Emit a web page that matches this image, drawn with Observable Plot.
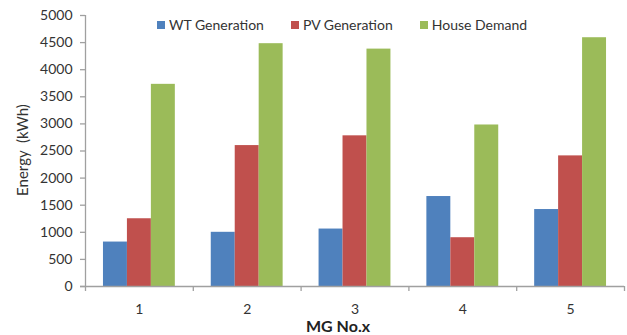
<!DOCTYPE html>
<html>
<head>
<meta charset="utf-8">
<script src="https://cdn.jsdelivr.net/npm/d3@7"></script>
<script src="https://cdn.jsdelivr.net/npm/@observablehq/plot@0.6"></script>
<style>
  html, body { margin: 0; padding: 0; background: #fff; }
  #chart { position: relative; width: 627px; height: 335px; font-family: Lato, "Open Sans", sans-serif; }
  #chart svg { display: block; }
  .legend { position: absolute; top: 16px; left: 157px; display: flex; font-size: 14px; color: #333; }
  .legend span { display: inline-flex; align-items: center; white-space: nowrap; }
  .legend i { display: inline-block; width: 8px; height: 8px; margin-right: 4px; }
  .xtitle { position: absolute; left: 306px; top: 316px; font-size: 16px; font-weight: bold; color: #222; }
  .ytitle { position: absolute; left: 22px; top: 150px; transform: translate(-50%, -50%) rotate(-90deg); font-size: 15px; color: #333; white-space: pre; }
</style>
</head>
<body>
<div id="chart"></div>
<script>
// Energy per micro-grid, kWh
const grids = [1, 2, 3, 4, 5];
const series = ["WT Generation", "PV Generation", "House Demand"];
const wtGeneration = [820, 1000, 1060, 1660, 1420];
const pvGeneration = [1250, 2600, 2780, 900, 2410];
const houseDemand = [3730, 4480, 4380, 2980, 4590];
const colors = ["#4F81BD", "#C0504D", "#9BBB59"];
const yTicks = d3.range(0, 5001, 500);

// Each grid occupies one unit on x; the three bars fill the middle two thirds.
const groupWidth = 2 / 3;
const barWidth = groupWidth / series.length;
const values = [wtGeneration, pvGeneration, houseDemand];
const rows = [];
grids.forEach((g, i) => {
  series.forEach((s, j) => {
    const x1 = g - groupWidth / 2 + j * barWidth;
    rows.push({grid: g, series: s, x1, x2: x1 + barWidth, value: values[j][i]});
  });
});
const boundaries = d3.range(grids.length + 1).map(i => grids[0] - 0.5 + i);

const axisColor = "#a0a0a0";
const plot = Plot.plot({
  width: 627,
  height: 335,
  marginLeft: 85,
  marginRight: 3,
  marginTop: 15,
  marginBottom: 49,
  style: {fontFamily: "Lato, 'Open Sans', sans-serif", fontSize: "14px", color: "#333", background: "#fff"},
  x: {domain: [boundaries[0], boundaries[boundaries.length - 1]]},
  y: {domain: [0, 5000]},
  color: {domain: series, range: colors},
  marks: [
    Plot.rectY(rows, {x1: "x1", x2: "x2", y1: 0, y2: "value", fill: "series"}),
    Plot.ruleY([0], {stroke: axisColor, strokeWidth: 1.3, x1: boundaries[0], x2: boundaries[boundaries.length - 1], insetLeft: -5}),
    Plot.ruleX([boundaries[0]], {stroke: axisColor, strokeWidth: 1.3}),
    Plot.axisY({ticks: yTicks, tickSize: 5, tickPadding: 8, tickFormat: d => String(d), label: null, stroke: axisColor, strokeWidth: 1.3}),
    Plot.axisX({ticks: boundaries, tickSize: 5, tickFormat: () => "", label: null, stroke: axisColor, strokeWidth: 1.3}),
    Plot.axisX({ticks: grids, tickSize: 0, tickPadding: 18, tickFormat: d => String(d), label: null})
  ]
});

const chart = document.getElementById("chart");
chart.appendChild(plot);

const legend = document.createElement("div");
legend.className = "legend";
series.forEach((s, j) => {
  const item = document.createElement("span");
  item.style.marginRight = j < series.length - 1 ? "27px" : "0";
  const sw = document.createElement("i");
  sw.style.background = colors[j];
  item.appendChild(sw);
  item.appendChild(document.createTextNode(s));
  legend.appendChild(item);
});
chart.appendChild(legend);

const yTitle = document.createElement("div");
yTitle.className = "ytitle";
yTitle.textContent = "Energy  (kWh)";
chart.appendChild(yTitle);

const xTitle = document.createElement("div");
xTitle.className = "xtitle";
xTitle.textContent = "MG No.x";
chart.appendChild(xTitle);
</script>
</body>
</html>
